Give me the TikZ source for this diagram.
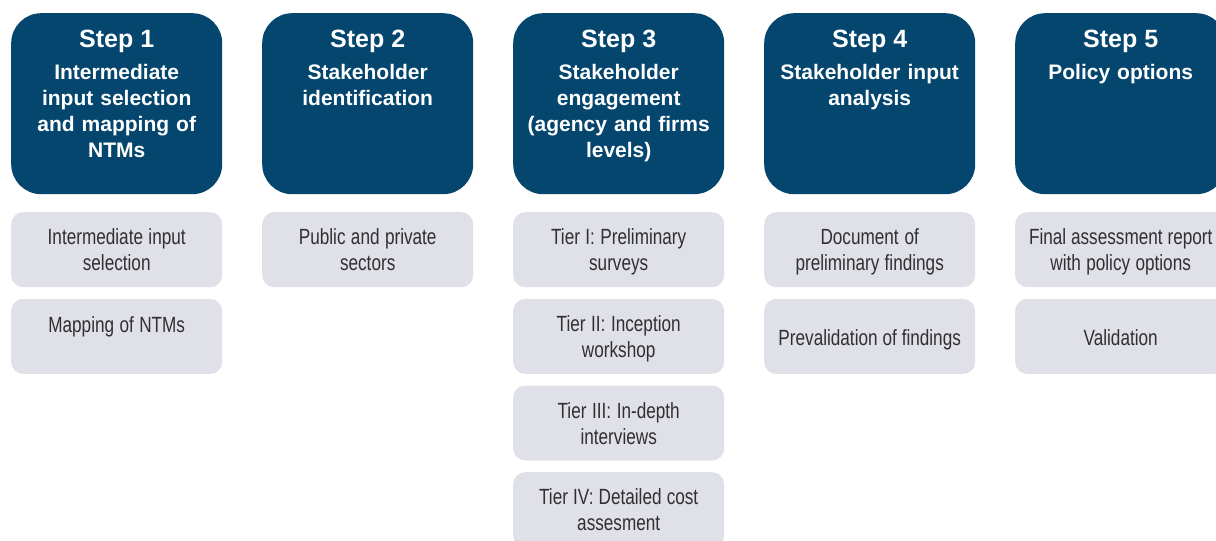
\documentclass[tikz,border=0pt]{standalone}
\usepackage{fontspec}
\usetikzlibrary{calc}
\setmainfont{Liberation Sans}
\newfontfamily\condfont{Liberation Sans}[FakeStretch=0.78]
\definecolor{stepblue}{HTML}{05466F}
\definecolor{taskgrey}{HTML}{DFE0E8}
\definecolor{tasktext}{HTML}{303030}
% narrower word spaces and a fixed first-line height for the task texts
\newcommand{\firstline}{\spaceskip=4.6pt plus 1pt minus 0.5pt\relax\rule{0pt}{17pt}}
\tikzset{
  stepbox/.style={fill=stepblue, draw=none, rounded corners=30pt, minimum width=211pt, minimum height=181pt, inner sep=0pt, anchor=north west},
  steptitle/.style={text=white, font=\bfseries\fontsize{25}{30}\selectfont, anchor=base, inner sep=0pt},
  stepsub/.style={text=white, font=\bfseries\fontsize{21}{26}\selectfont, anchor=north, inner sep=0pt, align=center, text width=205pt},
  taskbox/.style={fill=taskgrey, draw=none, rounded corners=12pt, minimum width=211pt, minimum height=75pt, inner sep=0pt, anchor=north west},
  tasklabel/.style={text=tasktext, font=\condfont\fontsize{22}{26}\selectfont, inner sep=0pt, align=center, text width=209pt, anchor=north},
}
\begin{document}
\begin{tikzpicture}[x=1pt,y=-1pt]
\useasboundingbox (0,0) rectangle (1216,541);
\begin{scope}
\clip (0,0) rectangle (1216,541);

% step headers
\node[stepbox] (s1) at (11,13) {};
\node[stepbox] (s2) at (262,13) {};
\node[stepbox] (s3) at (513,13) {};
\node[stepbox] (s4) at (764,13) {};
\node[stepbox] (s5) at (1015,13) {};

\node[steptitle] (s1t) at ($(s1.north)+(0,34)$) {Step 1};
\node[steptitle] (s2t) at ($(s2.north)+(0,34)$) {Step 2};
\node[steptitle] (s3t) at ($(s3.north)+(0,34)$) {Step 3};
\node[steptitle] (s4t) at ($(s4.north)+(0,34)$) {Step 4};
\node[steptitle] (s5t) at ($(s5.north)+(0,34)$) {Step 5};

\node[stepsub] (s1s) at ($(s1.north)+(0,51)$) {Intermediate\\input selection\\and mapping of\\NTMs};
\node[stepsub] (s2s) at ($(s2.north)+(0,51)$) {Stakeholder\\identification};
\node[stepsub] (s3s) at ($(s3.north)+(0,51)$) {Stakeholder\\engagement\\(agency and firms\\levels)};
\node[stepsub] (s4s) at ($(s4.north)+(0,51)$) {Stakeholder input\\analysis};
\node[stepsub] (s5s) at ($(s5.north)+(0,51)$) {Policy options};

% tasks: text set from the top of each box (lower for a lone centred line)
% column 1
\node[taskbox] (t11) at (11,212) {};
\node[tasklabel] (t11l) at ($(t11.north)+(0,15.5)$) {\firstline Intermediate input\\selection};
\node[taskbox] (t12) at (11,298.7) {};
\node[tasklabel] (t12l) at ($(t12.north)+(0,16.5)$) {\firstline Mapping of NTMs};

% column 2
\node[taskbox] (t21) at (262,212) {};
\node[tasklabel] (t21l) at ($(t21.north)+(0,15.5)$) {\firstline Public and private\\sectors};

% column 3
\node[taskbox] (t31) at (513,212) {};
\node[tasklabel] (t31l) at ($(t31.north)+(0,15.5)$) {\firstline Tier I: Preliminary\\surveys};
\node[taskbox] (t32) at (513,298.7) {};
\node[tasklabel] (t32l) at ($(t32.north)+(0,15.5)$) {\firstline Tier II: Inception\\workshop};
\node[taskbox] (t33) at (513,385.3) {};
\node[tasklabel] (t33l) at ($(t33.north)+(0,15.5)$) {\firstline Tier III: In-depth\\interviews};
\node[taskbox] (t34) at (513,472) {};
\node[tasklabel] (t34l) at ($(t34.north)+(0,15.5)$) {\firstline Tier IV: Detailed cost\\assesment};

% column 4
\node[taskbox] (t41) at (764,212) {};
\node[tasklabel] (t41l) at ($(t41.north)+(0,15.5)$) {\firstline Document of\\preliminary findings};
\node[taskbox] (t42) at (764,298.7) {};
\node[tasklabel] (t42l) at ($(t42.north)+(0,30)$) {\firstline Prevalidation of findings};

% column 5
\node[taskbox] (t51) at (1015,212) {};
\node[tasklabel] (t51l) at ($(t51.north)+(0,15.5)$) {\firstline Final assessment report\\with policy options};
\node[taskbox] (t52) at (1015,298.7) {};
\node[tasklabel] (t52l) at ($(t52.north)+(0,30)$) {\firstline Validation};
\end{scope}
\end{tikzpicture}
\end{document}
